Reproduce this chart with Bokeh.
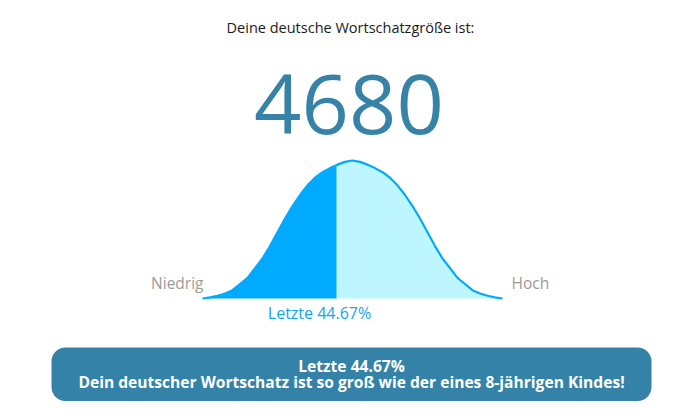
import numpy as np
from bokeh.plotting import figure
from bokeh.models import Range1d, Label
from bokeh.embed import file_html
from bokeh.resources import INLINE

# ---- data ----
title_text = "Deine deutsche Wortschatzgröße ist:"
score = 4680
percentile = 44.67
label_low = "Niedrig"
label_high = "Hoch"
message = "Dein deutscher Wortschatz ist so groß wie der eines 8-jährigen Kindes!"

curve_x = [0, 2.5, 5, 7.5, 10, 12.5, 15, 17.5, 20, 22.5, 25, 27.5, 30, 32.5, 35, 37.5,
           40, 42.5, 45, 47.5, 50, 52.5, 55, 57.5, 60, 62.5, 65, 67.5, 70, 72.5, 75,
           77.5, 80, 82.5, 85, 87.5, 90, 92.5, 95, 97.5, 100]
curve_y = [0.0, 0.008, 0.02, 0.036, 0.06, 0.105, 0.15, 0.22, 0.29, 0.38, 0.48, 0.58,
           0.67, 0.75, 0.82, 0.875, 0.915, 0.945, 0.97, 0.99, 1.0, 0.99, 0.97, 0.945,
           0.915, 0.875, 0.82, 0.75, 0.67, 0.58, 0.48, 0.38, 0.29, 0.22, 0.15, 0.105,
           0.06, 0.036, 0.02, 0.008, 0.0]

# ---- layout helpers (picture px -> data units) ----
W, H = 664, 405
def X(px):
    return (px - 202) / 3.0
def Y(py):
    return (298 - py) / 138.0

FONT = "Open Sans"

p = figure(width=W, height=H, output_backend="svg", toolbar_location=None,
           x_range=Range1d(X(0), X(W)), y_range=Range1d(Y(H), Y(0)),
           min_border=0, min_border_left=0, min_border_right=0,
           min_border_top=0, min_border_bottom=0)
p.axis.visible = False
p.grid.visible = False
p.outline_line_color = None
p.background_fill_color = "white"
p.border_fill_color = "white"

cx = np.array(curve_x, dtype=float)
cy = np.array(curve_y, dtype=float)
split_y = float(np.interp(percentile, cx, cy))

left_mask = cx < percentile
lx = np.concatenate([cx[left_mask], [percentile]])
ly = np.concatenate([cy[left_mask], [split_y]])
rx = np.concatenate([[percentile], cx[~left_mask]])
ry = np.concatenate([[split_y], cy[~left_mask]])

p.varea(x=rx, y1=np.zeros_like(ry), y2=ry, fill_color="#bdf6ff")
p.varea(x=lx, y1=np.zeros_like(ly), y2=ly, fill_color="#00aaff")
p.line(x=cx, y=cy, line_color="#00aaff", line_width=2.2)

# button
p.quad(left=X(51), right=X(651), top=Y(347), bottom=Y(400.5),
       fill_color="#3482a8", line_color=None, border_radius=14)

def lab(x, y, text, size, color, align="center", style="normal"):
    p.add_layout(Label(x=x, y=y, text=text, text_align=align,
                       text_baseline="alphabetic", text_font=FONT,
                       text_font_size=size, text_color=color,
                       text_font_style=style))

lab(X(350), Y(27.3), title_text, "14.5px", "#1a1a1a")
lab(X(348.5), Y(104), str(score), "83px", "#3783a8")
lab(X(203), Y(282), label_low, "15.5px", "#a09a95", align="right")
lab(X(511), Y(282), label_high, "15.5px", "#a09a95", align="left")
lab(X(319), Y(312), f"Letzte {percentile}%", "16px", "#12a6f0")
lab(X(351), Y(365.2), f"Letzte {percentile}%", "15.6px", "white", style="bold")
lab(X(351), Y(381.8), message, "15.6px", "white", style="bold")

open("out.html", "w").write(file_html(p, INLINE))
